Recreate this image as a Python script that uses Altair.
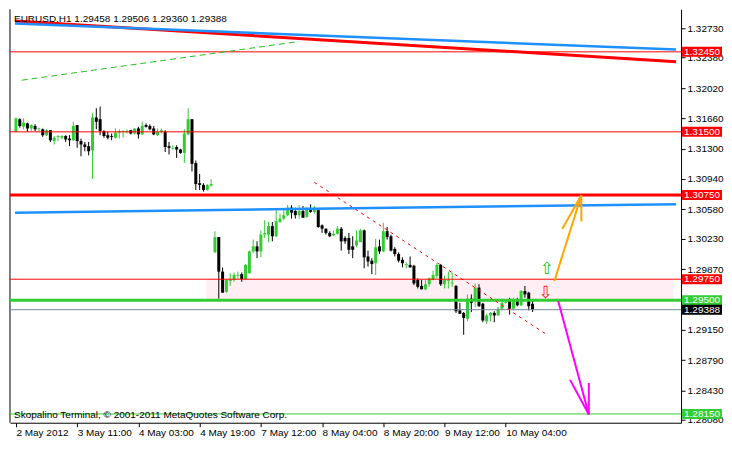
import altair as alt
import pandas as pd

# ---------------- data ----------------
# EURUSD H1 candles, bar index 0 = 2 May 2012 (first visible bar)
opens = [1.3150, 1.3165, 1.3156, 1.3160, 1.3154, 1.3157, 1.3153, 1.3153, 1.3146, 1.3152,
         1.3139, 1.3144, 1.3143, 1.3145, 1.3142, 1.3140, 1.3158, 1.3139, 1.3135, 1.3133,
         1.3128, 1.3167, 1.3165, 1.3151, 1.3146, 1.3145, 1.3143, 1.3149, 1.3150, 1.3150,
         1.3152, 1.3148, 1.3154, 1.3147, 1.3158, 1.3157, 1.3154, 1.3146, 1.3150, 1.3150,
         1.3133, 1.3130, 1.3132, 1.3129, 1.3125, 1.3147, 1.3165, 1.3113, 1.3089, 1.3087,
         1.3081, 1.3086,
         1.3007, 1.3025, 1.2984, 1.2960, 1.2973, 1.2974, 1.2979, 1.2981, 1.2975, 1.2982,
         1.3008, 1.3014, 1.3008, 1.3028, 1.3028, 1.3038, 1.3026, 1.3043, 1.3047, 1.3051,
         1.3060, 1.3056, 1.3051, 1.3056, 1.3049, 1.3057, 1.3055, 1.3057, 1.3039, 1.3035,
         1.3030, 1.3027, 1.3029, 1.3035, 1.3024, 1.3024, 1.3014, 1.3015, 1.3019, 1.3033,
         1.3002, 1.2997,
         1.2994, 1.3014, 1.3008, 1.3032, 1.3026, 1.3011, 1.3005, 1.2998, 1.2992, 1.2992,
         1.2991, 1.2974, 1.2967, 1.2963, 1.2969, 1.2974, 1.2979, 1.2992, 1.2969, 1.2973,
         1.2970, 1.2967, 1.2938, 1.2935, 1.2928, 1.2952, 1.2949, 1.2965, 1.2946, 1.2925,
         1.2932, 1.2935, 1.2932, 1.2940, 1.2947, 1.2950, 1.2940, 1.2949, 1.2944, 1.2961,
         1.2959, 1.29458]
highs = [1.3167, 1.3166, 1.3166, 1.3161, 1.3159, 1.3159, 1.3155, 1.3154, 1.3153, 1.3152,
         1.3145, 1.3146, 1.3146, 1.3146, 1.3146, 1.3162, 1.3158, 1.3142, 1.3138, 1.3138,
         1.3172, 1.3178, 1.3180, 1.3152, 1.3150, 1.3148, 1.3154, 1.3153, 1.3152, 1.3153,
         1.3152, 1.3154, 1.3156, 1.3162, 1.3160, 1.3159, 1.3157, 1.3154, 1.3154, 1.3152,
         1.3138, 1.3134, 1.3134, 1.3130, 1.3153, 1.3178, 1.3165, 1.3116, 1.3100, 1.3089,
         1.3088, 1.3094,
         1.3032, 1.3025, 1.2989, 1.2975, 1.2982, 1.2983, 1.2984, 1.2983, 1.2993, 1.3009,
         1.3022, 1.3020, 1.3033, 1.3045, 1.3043, 1.3043, 1.3057, 1.3053, 1.3057, 1.3063,
         1.3063, 1.3060, 1.3063, 1.3062, 1.3060, 1.3064, 1.3062, 1.3058, 1.3040, 1.3035,
         1.3032, 1.3033, 1.3038, 1.3037, 1.3026, 1.3030, 1.3026, 1.3033, 1.3035, 1.3034,
         1.3009, 1.3000,
         1.3023, 1.3022, 1.3042, 1.3037, 1.3028, 1.3013, 1.3007, 1.3001, 1.2995, 1.3002,
         1.2992, 1.2976, 1.2974, 1.2974, 1.2977, 1.2985, 1.2994, 1.2993, 1.2979, 1.2984,
         1.2983, 1.2968, 1.2947, 1.2936, 1.2957, 1.2957, 1.2970, 1.2969, 1.2947, 1.2934,
         1.2936, 1.2937, 1.2942, 1.2949, 1.2951, 1.2953, 1.2953, 1.2953, 1.2962, 1.2967,
         1.2960, 1.29506]
lows = [1.3150, 1.3155, 1.3153, 1.3150, 1.3151, 1.3151, 1.3150, 1.3144, 1.3145, 1.3138,
        1.3135, 1.3139, 1.3141, 1.3138, 1.3133, 1.3139, 1.3131, 1.3121, 1.3127, 1.3122,
        1.3094, 1.3153, 1.3146, 1.3143, 1.3141, 1.3140, 1.3142, 1.3142, 1.3143, 1.3148,
        1.3147, 1.3147, 1.3142, 1.3146, 1.3155, 1.3152, 1.3146, 1.3145, 1.3148, 1.3126,
        1.3123, 1.3129, 1.3119, 1.3124, 1.3113, 1.3146, 1.3103, 1.3081, 1.3081, 1.3079,
        1.3080, 1.3085,
        1.3006, 1.2952, 1.2959, 1.2959, 1.2967, 1.2972, 1.2976, 1.2972, 1.2974, 1.2982,
        1.3006, 1.3000, 1.3001, 1.3024, 1.3019, 1.3020, 1.3025, 1.3042, 1.3045, 1.3050,
        1.3047, 1.3047, 1.3047, 1.3048, 1.3048, 1.3054, 1.3053, 1.3036, 1.3030, 1.3028,
        1.3025, 1.3026, 1.3028, 1.3009, 1.3017, 1.3005, 1.3000, 1.3013, 1.3019, 1.2988,
        1.2990, 1.2981,
        1.2980, 1.3005, 1.3007, 1.3022, 1.3008, 1.3002, 1.2995, 1.2989, 1.2988, 1.2989,
        1.2968, 1.2964, 1.2963, 1.2962, 1.2966, 1.2974, 1.2976, 1.2967, 1.2964, 1.2964,
        1.2966, 1.2935, 1.2934, 1.2909, 1.2925, 1.2936, 1.2942, 1.2942, 1.2924, 1.2922,
        1.2925, 1.2924, 1.2932, 1.2938, 1.2946, 1.2933, 1.2938, 1.2943, 1.2943, 1.2953,
        1.2938, 1.29360]
closes = [1.3166, 1.3157, 1.3161, 1.3154, 1.3158, 1.3153, 1.3154, 1.3146, 1.3152, 1.3140,
          1.3143, 1.3145, 1.3145, 1.3141, 1.3140, 1.3157, 1.3139, 1.3135, 1.3132, 1.3127,
          1.3167, 1.3162, 1.3151, 1.3145, 1.3143, 1.3144, 1.3149, 1.3151, 1.3151, 1.3151,
          1.3148, 1.3154, 1.3147, 1.3157, 1.3156, 1.3153, 1.3147, 1.3150, 1.3152, 1.3132,
          1.3131, 1.3131, 1.3129, 1.3125, 1.3148, 1.3165, 1.3112, 1.3088, 1.3087, 1.3081,
          1.3087, 1.3088,
          1.3025, 1.2984, 1.2959, 1.2974, 1.2975, 1.2980, 1.2980, 1.2975, 1.2992, 1.3008,
          1.3014, 1.3008, 1.3028, 1.3030, 1.3038, 1.3026, 1.3044, 1.3047, 1.3051, 1.3060,
          1.3054, 1.3051, 1.3056, 1.3048, 1.3060, 1.3055, 1.3060, 1.3037, 1.3035, 1.3030,
          1.3026, 1.3029, 1.3035, 1.3020, 1.3020, 1.3010, 1.3010, 1.3021, 1.3033, 1.3001,
          1.2996, 1.2993,
          1.3013, 1.3008, 1.3032, 1.3025, 1.3009, 1.3005, 1.2997, 1.2994, 1.2993, 1.2989,
          1.2970, 1.2966, 1.2963, 1.2969, 1.2976, 1.2980, 1.2992, 1.2969, 1.2974, 1.2974,
          1.2971, 1.2937, 1.2934, 1.2929, 1.2952, 1.2947, 1.2965, 1.2943, 1.2926, 1.2932,
          1.2935, 1.2932, 1.2940, 1.2947, 1.2948, 1.2940, 1.2950, 1.2944, 1.2961, 1.2957,
          1.2943, 1.29388]

tick_index = [0, 16, 32, 48, 64, 80, 96, 112, 128]
tick_labels = ["2 May 2012", "3 May 11:00", "4 May 03:00", "4 May 19:00", "7 May 12:00",
               "8 May 04:00", "8 May 20:00", "9 May 12:00", "10 May 04:00"]
# 1.29510 is hidden under the price badges in the reference, so it is not listed
price_ticks = [1.3273, 1.3238, 1.3202, 1.3166, 1.3130, 1.3094, 1.3058, 1.3023,
               1.2987, 1.2915, 1.2879, 1.2843, 1.2808]

# horizontal levels
level_prices = [1.3245, 1.3150, 1.3075, 1.2975, 1.2950, 1.2815, 1.29388]
level_colors = ["#FF0000", "#FF0000", "#FF0000", "#FF0000", "#32CD32", "#32CD32", "#778899"]
level_widths = [1, 1, 3, 1, 3, 1, 1]
badge_text = ["1.32450", "1.31500", "1.30750", "1.29750", "1.29500", "1.28150", "1.29388"]
badge_colors = ["#FF0000", "#FF0000", "#FF0000", "#FF0000", "#32CD32", "#32CD32", "#000000"]

# solid trend lines (bar index / price)
trend_x1 = [-0.25, -0.25, -0.25]
trend_p1 = [1.32817, 1.32787, 1.30540]
trend_x2 = [172.5, 172.5, 172.5]
trend_p2 = [1.32333, 1.32477, 1.30641]
trend_colors = ["#FF0000", "#1E90FF", "#1E90FF"]
trend_widths = [3, 2.5, 2.5]

# dashed trend lines
green_dash = {"x1": 1.5, "p1": 1.32113, "x2": 74, "p2": 1.32573}
red_dash = {"x1": 78, "p1": 1.30900, "x2": 138.75, "p2": 1.29091}

# forecast arrows: shaft + two barbs each
arrow_x1 = [140.7, 142.75, 147.75, 141.7, 144.8, 149.7]
arrow_p1 = [1.29728, 1.30346, 1.30436, 1.29492, 1.28555, 1.28518]
arrow_x2 = [147.75, 147.75, 147.75, 149.7, 149.7, 149.7]
arrow_p2 = [1.30746, 1.30746, 1.30746, 1.28144, 1.28144, 1.28144]
arrow_colors = ["#FFA500"] * 3 + ["#FF00FF"] * 3

# shaded zone
zone_x = [49.75, 171.75]
zone_p = [1.2950, 1.2975]

# signal symbols
sym_x = [138.75, 138.4]
sym_p = [1.29866, 1.29585]
sym_text = ["\u21e7", "\u21e9"]
sym_colors = ["#22C022", "#FF2020"]

header = "EURUSD,H1  1.29458 1.29506 1.29360 1.29388"
footer = "Skopalino Terminal, \u00a9 2001-2011 MetaQuotes Software Corp."

# ---------------- chart ----------------
W, H = 672, 414
FONT = "Liberation Sans"
xs = alt.Scale(domain=[-0.25, 172.5], nice=False, zero=False)
ys = alt.Scale(domain=[1.28046, 1.32955], nice=False, zero=False)

candles = pd.DataFrame({"i": list(range(len(opens))), "o": opens, "h": highs,
                        "l": lows, "c": closes})
candles["col"] = ["#32CD32" if c >= o else "#000000" for o, c in zip(opens, closes)]

label_expr = "[" + ",".join("'%s'" % t for t in tick_labels) + "][round(datum.value/16)]"

xaxis = alt.Axis(values=tick_index, labelExpr=label_expr, title="", grid=False,
                 labelAlign="left", labelFlush=False, tickSize=4,
                 labelPadding=1, labelFont=FONT, labelFontSize=10, labelColor="black",
                 tickColor="black", domainColor="black")
yaxis = alt.Axis(values=price_ticks, format=".5f", orient="right", title="", grid=False,
                 tickSize=4, labelPadding=2, labelFont=FONT, labelFontSize=10,
                 labelColor="black", tickColor="black", domainColor="black",
                 labelOverlap=False, labelFlush=False)


def X(f):
    return alt.X(f, scale=xs, axis=xaxis)


def Y(f):
    return alt.Y(f, scale=ys, axis=yaxis)


zone = alt.Chart(pd.DataFrame({"x": [zone_x[0]], "x2": [zone_x[1]],
                               "p": [zone_p[0]], "p2": [zone_p[1]]})).mark_rect(
    color="#FFEEF3").encode(x=X("x:Q"), x2="x2:Q", y=Y("p:Q"), y2="p2:Q")

# left frame line of the chart window
frame = alt.Chart(pd.DataFrame({"t": [0]})).mark_rule(color="black", strokeWidth=1).encode(
    x=alt.value(0), y=alt.value(0), y2=alt.value(H))

wicks = alt.Chart(candles).mark_rule(strokeWidth=1).encode(
    x=X("i:Q"), y=Y("l:Q"), y2="h:Q", color=alt.Color("col:N", scale=None))
bodies = alt.Chart(candles).mark_bar(width=3).encode(
    x=X("i:Q"), y=Y("o:Q"), y2="c:Q", color=alt.Color("col:N", scale=None))

levels_df = pd.DataFrame({"p": level_prices, "col": level_colors, "w": level_widths})
levels = alt.Chart(levels_df).mark_rule().encode(
    y=Y("p:Q"), color=alt.Color("col:N", scale=None),
    strokeWidth=alt.StrokeWidth("w:Q", scale=None))

trend_df = pd.DataFrame({"x": trend_x1, "p": trend_p1, "x2": trend_x2, "p2": trend_p2,
                         "col": trend_colors, "w": trend_widths})
trends = alt.Chart(trend_df).mark_rule().encode(
    x=X("x:Q"), x2="x2:Q", y=Y("p:Q"), y2="p2:Q",
    color=alt.Color("col:N", scale=None),
    strokeWidth=alt.StrokeWidth("w:Q", scale=None))

gdash = alt.Chart(pd.DataFrame({"x": [green_dash["x1"]], "p": [green_dash["p1"]],
                                "x2": [green_dash["x2"]], "p2": [green_dash["p2"]]})).mark_rule(
    color="#22C022", strokeWidth=1, strokeDash=[6, 4]).encode(
    x=X("x:Q"), x2="x2:Q", y=Y("p:Q"), y2="p2:Q")
rdash = alt.Chart(pd.DataFrame({"x": [red_dash["x1"]], "p": [red_dash["p1"]],
                                "x2": [red_dash["x2"]], "p2": [red_dash["p2"]]})).mark_rule(
    color="#FF0000", strokeWidth=1, strokeDash=[3, 4]).encode(
    x=X("x:Q"), x2="x2:Q", y=Y("p:Q"), y2="p2:Q")

arrow_df = pd.DataFrame({"x": arrow_x1, "p": arrow_p1, "x2": arrow_x2, "p2": arrow_p2,
                         "col": arrow_colors})
arrows = alt.Chart(arrow_df).mark_rule(strokeWidth=2).encode(
    x=X("x:Q"), x2="x2:Q", y=Y("p:Q"), y2="p2:Q",
    color=alt.Color("col:N", scale=None))

sym_df = pd.DataFrame({"x": sym_x, "p": sym_p, "t": sym_text, "col": sym_colors})
symbols = alt.Chart(sym_df).mark_text(font="DejaVu Sans", fontSize=17, baseline="middle",
                                      align="center").encode(
    x=X("x:Q"), y=Y("p:Q"), text="t:N", color=alt.Color("col:N", scale=None))

head = alt.Chart(pd.DataFrame({"t": [header]})).mark_text(
    font=FONT, fontSize=10, align="left", baseline="middle", color="black").encode(
    x=alt.value(4), y=alt.value(10), text="t:N")
foot = alt.Chart(pd.DataFrame({"t": [footer]})).mark_text(
    font=FONT, fontSize=10, align="left", baseline="middle", color="black").encode(
    x=alt.value(4), y=alt.value(H - 8), text="t:N")

badge_df = pd.DataFrame({"p": level_prices, "t": badge_text, "col": badge_colors})
badges = alt.Chart(badge_df).mark_tick(orient="horizontal", thickness=10, size=40,
                                       opacity=1).encode(
    x=alt.value(W + 21), y=Y("p:Q"), color=alt.Color("col:N", scale=None))
badge_labels = alt.Chart(badge_df).mark_text(
    font=FONT, fontSize=10, align="left", baseline="middle", color="white").encode(
    x=alt.value(W + 3), y=Y("p:Q"), text="t:N")

chart = alt.layer(zone, frame, wicks, bodies, levels, trends, gdash, rdash, arrows, symbols,
                  head, foot, badges, badge_labels).properties(
    width=W, height=H, padding=0, background="white").configure_view(strokeWidth=0)

chart.save("out.html", embed_options={"renderer": "svg", "actions": False})
